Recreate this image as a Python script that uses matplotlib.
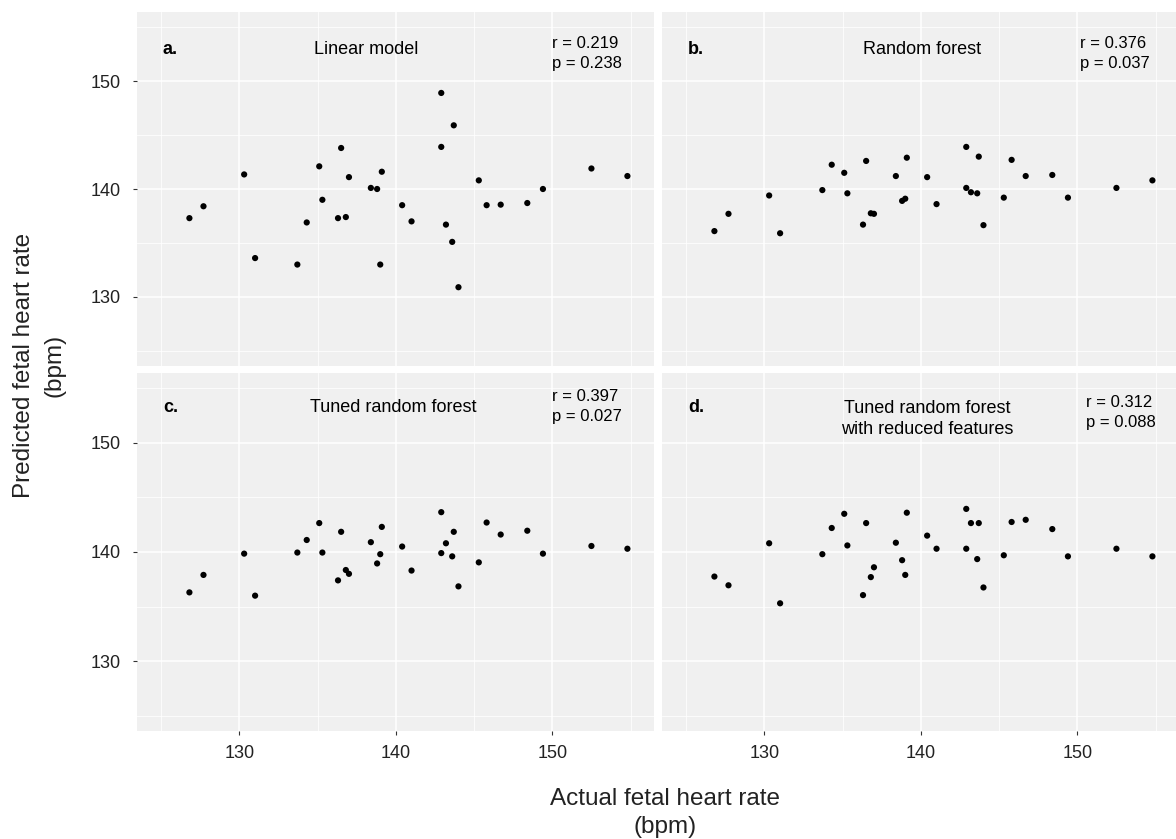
import numpy as np
import matplotlib.pyplot as plt
from matplotlib.ticker import MultipleLocator

plt.rcParams["font.family"] = ["Liberation Sans", "DejaVu Sans"]

# tegelik sagedus (ühine kõigile paneelidele)
actual = [126.8, 127.7, 130.3, 131.0, 133.7, 134.3, 135.1, 135.3, 136.3, 136.5,
          136.8, 137.0, 138.4, 138.8, 139.0, 139.1, 140.4, 141.0, 142.9, 142.9,
          143.2, 143.6, 143.7, 144.0, 145.3, 145.8, 146.7, 148.4, 149.4, 152.5, 154.8]

pred_linear = [137.3, 138.4, 141.35, 133.6, 133.0, 136.9, 142.1, 139.0, 137.3, 143.8,
               137.4, 141.1, 140.1, 140.0, 133.0, 141.6, 138.5, 137.0, 148.9, 143.9,
               136.7, 135.1, 145.9, 130.9, 140.8, 138.5, 138.55, 138.7, 140.0, 141.9, 141.2]

pred_rf = [136.1, 137.7, 139.4, 135.9, 139.9, 142.25, 141.5, 139.6, 136.7, 142.6,
           137.75, 137.7, 141.2, 138.9, 139.1, 142.9, 141.1, 138.6, 143.9, 140.1,
           139.7, 139.6, 143.0, 136.65, 139.2, 142.7, 141.2, 141.3, 139.2, 140.1, 140.8]

pred_tuned = [136.3, 137.9, 139.85, 136.0, 139.95, 141.1, 142.65, 139.95, 137.4, 141.85,
              138.35, 138.0, 140.9, 138.95, 139.8, 142.3, 140.5, 138.3, 143.65, 139.9,
              140.8, 139.6, 141.85, 136.85, 139.05, 142.7, 141.6, 141.95, 139.85, 140.55, 140.3]

pred_reduced = [137.75, 136.95, 140.8, 135.3, 139.8, 142.2, 143.5, 140.6, 136.05, 142.65,
                137.7, 138.6, 140.85, 139.25, 137.9, 143.6, 141.5, 140.3, 143.95, 140.3,
                142.65, 139.35, 142.65, 136.75, 139.7, 142.75, 142.95, 142.1, 139.6, 140.3, 139.6]

letters = ["a.", "b.", "c.", "d."]
titles = ["Linear model", "Random forest", "Tuned random forest",
          "Tuned random forest\nwith reduced features"]
stats = ["r = 0.219\np = 0.238", "r = 0.376\np = 0.037",
         "r = 0.397\np = 0.027", "r = 0.312\np = 0.088"]

W, H = 1176, 839
fig = plt.figure(figsize=(W / 100, H / 100), dpi=100)


def paneel(px):
    x0, y0, x1, y1 = px
    return fig.add_axes([x0 / W, 1 - y1 / H, (x1 - x0) / W, (y1 - y0) / H])


kastid = [(137, 12, 654, 366), (662, 12, 1179, 366),
          (137, 373, 654, 731), (662, 373, 1179, 731)]
seeriad = [pred_linear, pred_rf, pred_tuned, pred_reduced]
pealkirja_x = [138.1, 140.1, 139.8, 140.4]
pealkirja_y = [152.9, 152.9, 153.2, 152.2]
stat_x = [150.0, 150.2, 150.0, 150.55]
stat_y = [152.55, 152.55, 153.3, 152.8]
taht_y = [152.9, 152.9, 153.2, 153.2]

for i, kast in enumerate(kastid):
    ax = paneel(kast)
    ax.set_facecolor("#F0F0F0")
    for s in ax.spines.values():
        s.set_visible(False)
    ax.set_xlim(123.45, 156.5)
    ax.set_ylim(123.6, 156.4)
    ax.xaxis.set_major_locator(MultipleLocator(10))
    ax.xaxis.set_minor_locator(MultipleLocator(5))
    ax.yaxis.set_major_locator(MultipleLocator(10))
    ax.yaxis.set_minor_locator(MultipleLocator(5))
    ax.grid(which="major", color="white", linewidth=1.1)
    ax.grid(which="minor", color="white", linewidth=0.55)
    ax.set_axisbelow(True)
    ax.tick_params(which="minor", length=0)
    ax.tick_params(which="major", length=3, width=0.8, color="#333333",
                   labelsize=13, labelcolor="#222222")
    ax.tick_params(axis="y", pad=9)
    ax.tick_params(axis="x", pad=7)

    if i % 2 == 1:
        ax.tick_params(axis="y", left=False, labelleft=False)
    if i < 2:
        ax.tick_params(axis="x", bottom=False, labelbottom=False)

    ax.scatter(actual, seeriad[i], s=20, color="black", edgecolors="none", zorder=3)

    ax.text(125.1, taht_y[i], letters[i], fontsize=13, fontweight="bold",
            ha="left", va="center")
    ax.text(pealkirja_x[i], pealkirja_y[i], titles[i], fontsize=13,
            ha="center", va="center", linespacing=1.3)
    ax.text(stat_x[i], stat_y[i], stats[i], fontsize=12,
            ha="left", va="center", linespacing=1.4)

# telgede pealkirjad
fig.text(665 / W, 1 - 813 / H, "Actual fetal heart rate\n(bpm)", fontsize=17.5,
         ha="center", va="center", linespacing=1.35, color="#222222")
fig.text(39 / W, 1 - 365 / H, "Predicted fetal heart rate\n(bpm)", fontsize=17.5,
         rotation=90, ha="center", va="center", linespacing=1.5, color="#222222")

fig.savefig("out.png", dpi=100, facecolor="white")
